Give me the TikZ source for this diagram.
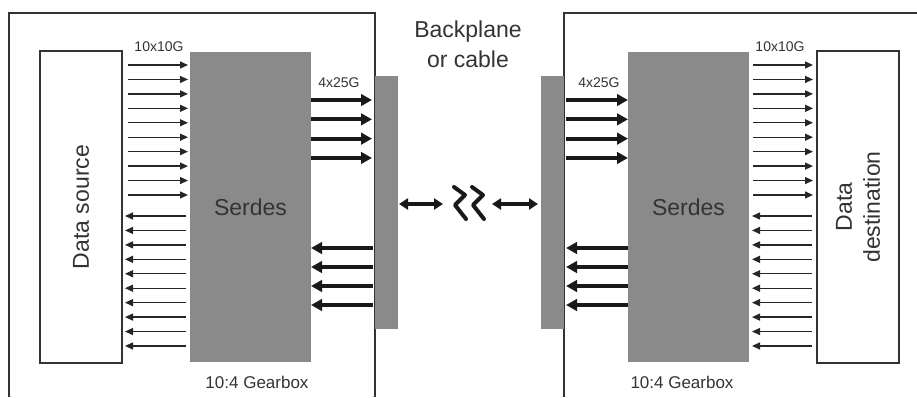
\documentclass[tikz,border=0pt]{standalone}
\usepackage{fontspec}
\setmainfont{Liberation Sans}
\usetikzlibrary{arrows.meta}
\usetikzlibrary{calc}
\definecolor{chipgray}{HTML}{8A8A8A}
\definecolor{inkgray}{HTML}{333333}

\tikzset{
	chip/.style={fill=chipgray,draw=none,inner sep=0pt,outer sep=0pt,text=inkgray,
		font=\fontsize{23}{28}\selectfont},
	endbox/.style={draw=inkgray,line width=1.4pt,fill=white,inner sep=0pt,outer sep=0pt,
		text=inkgray,rotate=90,align=center,minimum width=312pt,minimum height=82pt,
		font=\fontsize{23}{28}\selectfont},
	lane/.style={line width=1.3pt,draw=black!85,-{Triangle[length=8pt,width=7pt]}},
	fatlane/.style={line width=4pt,draw=black!90,-{Triangle[length=11pt,width=11.5pt]}},
	link/.style={line width=3.3pt,draw=black!90,
		{Triangle[length=9pt,width=11pt]}-{Triangle[length=9pt,width=11pt]}},
	breakmark/.style={line width=4pt,draw=black!90,line cap=round,line join=round},
	board/.style={draw=inkgray,line width=1.3pt},
	lbl/.style={text=inkgray,inner sep=0pt}
}

\begin{document}
\begin{tikzpicture}[x=1pt,y=-1pt]
	\useasboundingbox (0,0) rectangle (917,397);
	%%%%%%%%%%%%%%% boards
	\draw[board] (9,397) -- (9,13) -- (375,13) -- (375,397);
	\draw[board] (917,13) -- (564,13) -- (564,397);
	%%%%%%%%%%%%%%% blocks
	\node[endbox] (src) at (81,207) {Data source};
	\node[endbox] (dst) at (858,207) {Data\\destination};
	\node[chip,minimum width=121pt,minimum height=310pt] (serL) at (250.5,207) {Serdes};
	\node[chip,minimum width=121pt,minimum height=310pt] (serR) at (688.5,207) {Serdes};
	\node[chip,minimum width=23pt,minimum height=253pt] (conL) at (386.5,202.5) {};
	\node[chip,minimum width=23pt,minimum height=253pt] (conR) at (552.5,202.5) {};
	%%%%%%%%%%%%%%% labels
	\node[lbl,font=\fontsize{14}{16}\selectfont] (laneL) at (159,47) {10x10G};
	\node[lbl,font=\fontsize{14}{16}\selectfont] (laneR) at (780,47) {10x10G};
	\node[lbl,font=\fontsize{14}{16}\selectfont] (fatL) at (339,83) {4x25G};
	\node[lbl,font=\fontsize{14}{16}\selectfont] (fatR) at (599,83) {4x25G};
	\node[lbl,font=\fontsize{17}{20}\selectfont] (gbL) at (257,382) {10:4 Gearbox};
	\node[lbl,font=\fontsize{17}{20}\selectfont] (gbR) at (682,382) {10:4 Gearbox};
	\node[lbl,align=center,font=\fontsize{23}{30}\selectfont] (bp) at (468,44) {Backplane\\or cable};
	%%%%%%%%%%%%%%% 10 slow lanes
	\foreach \i in {0,...,9}{
		\pgfmathsetmacro{\ya}{65+14.44*\i}
		\pgfmathsetmacro{\yb}{216+14.44*\i}
		\draw[lane,shorten <=6pt,shorten >=2pt] (src.south |- 0,\ya) -- (serL.west |- 0,\ya);
		\draw[lane,shorten <=4pt,shorten >=3pt] (serL.west |- 0,\yb) -- (src.south |- 0,\yb);
		\draw[lane,shorten <=4pt,shorten >=4pt] (serR.east |- 0,\ya) -- (dst.north |- 0,\ya);
		\draw[lane,shorten <=5pt,shorten >=3pt] (dst.north |- 0,\yb) -- (serR.east |- 0,\yb);
	}
	%%%%%%%%%%%%%%% 4 fast lanes
	\foreach \i in {0,...,3}{
		\pgfmathsetmacro{\ya}{100+19.33*\i}
		\pgfmathsetmacro{\yb}{248+19*\i}
		\draw[fatlane,shorten >=3pt] (serL.east |- 0,\ya) -- (conL.west |- 0,\ya);
		\draw[fatlane,shorten <=2pt] (conL.west |- 0,\yb) -- (serL.east |- 0,\yb);
		\draw[fatlane,shorten <=2pt] (conR.east |- 0,\ya) -- (serR.west |- 0,\ya);
		\draw[fatlane,shorten >=2pt] (serR.west |- 0,\yb) -- (conR.east |- 0,\yb);
	}
	%%%%%%%%%%%%%%% channel
	\coordinate (brkL) at (443,204);
	\coordinate (brkR) at (492,204);
	\draw[link,shorten <=1pt] (conL.east |- brkL) -- (brkL);
	\draw[link,shorten >=3pt] (brkR) -- (conR.west |- brkR);
	\draw[breakmark] (454,187) -- (465,195) -- (455,205) -- (466,219);
	\draw[breakmark] (472,187) -- (483,195) -- (473,205) -- (484,219);
\end{tikzpicture}
\end{document}
